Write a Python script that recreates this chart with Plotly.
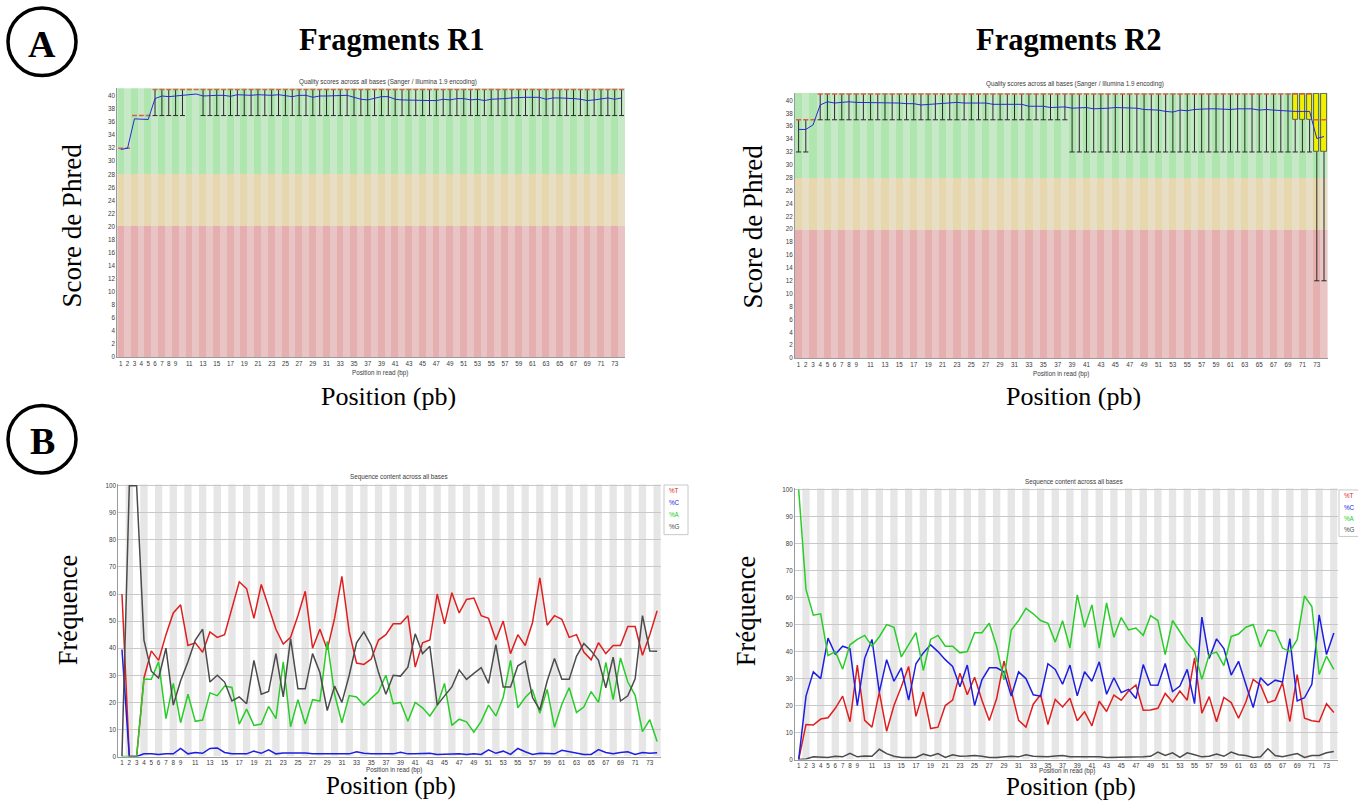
import plotly.graph_objects as go

W, H = 1358, 803

# ---------------- data ----------------
positions = list(range(1, 75))
x_tick_vals = [1, 2, 3, 4, 5, 6, 7, 8, 9, 11, 13, 15, 17, 19, 21, 23, 25, 27, 29, 31, 33, 35,
               37, 39, 41, 43, 45, 47, 49, 51, 53, 55, 57, 59, 61, 63, 65, 67, 69, 71, 73]
q_tick_vals = [0, 2, 4, 6, 8, 10, 12, 14, 16, 18, 20, 22, 24, 26, 28, 30, 32, 34, 36, 38, 40]
c_tick_vals = [0, 10, 20, 30, 40, 50, 60, 70, 80, 90, 100]

# Quality scores, Fragments R1
r1_mean = [31.8, 32.0, 36.5, 36.4, 36.4, 39.6, 40.0, 39.9, 40.0, 40.2,
           40.3, 40.3, 40.0, 40.1, 40.1, 40.1, 39.95, 40.2, 40.1, 40.1,
           40.2, 40.1, 40.1, 40.2, 40.0, 39.9, 40.1, 40.1, 39.8, 40.0,
           40.0, 40.0, 40.0, 40.1, 39.8, 39.5, 39.4, 39.6, 39.9, 39.9,
           39.5, 39.4, 39.35, 39.3, 39.3, 39.3, 39.3, 39.5, 39.4, 39.6,
           39.6, 39.4, 39.5, 39.3, 39.5, 39.5, 39.6, 39.7, 39.8, 39.8,
           39.8, 39.8, 39.5, 39.7, 39.7, 39.7, 39.6, 39.5, 39.3, 39.4,
           39.6, 39.7, 39.5, 39.7]
r1_median = [32, 32, 37, 37, 37, 41, 41, 41, 41, 41, 41, 41, 41, 41, 41, 41, 41, 41, 41, 41,
             41, 41, 41, 41, 41, 41, 41, 41, 41, 41, 41, 41, 41, 41, 41, 41, 41, 41, 41, 41,
             41, 41, 41, 41, 41, 41, 41, 41, 41, 41, 41, 41, 41, 41, 41, 41, 41, 41, 41, 41,
             41, 41, 41, 41, 41, 41, 41, 41, 41, 41, 41, 41, 41, 41]
r1_q1 = r1_median
r1_q3 = r1_median
r1_low = [32, 32, 37, 37, 37, 37, 37, 37, 37, 37, 41, 41, 37, 37, 37, 37, 37, 37, 37, 37,
          37, 37, 37, 37, 37, 37, 37, 37, 37, 37, 37, 37, 37, 37, 37, 37, 37, 37, 37, 37,
          37, 37, 37, 37, 37, 37, 37, 37, 37, 37, 37, 37, 37, 37, 37, 37, 37, 37, 37, 37,
          37, 37, 37, 37, 37, 37, 37, 37, 37, 37, 37, 37, 37, 37]
r1_high = r1_median

# Quality scores, Fragments R2
r2_mean = [35.5, 35.5, 36.2, 39.3, 39.8, 39.6, 39.7, 39.8, 39.7, 39.7,
           39.7, 39.7, 39.6, 39.6, 39.6, 39.5, 39.5, 39.3, 39.4, 39.4,
           39.5, 39.6, 39.7, 39.6, 39.6, 39.6, 39.6, 39.4, 39.4, 39.4,
           39.4, 39.4, 39.1, 39.1, 39.1, 38.9, 38.9, 39.0, 38.8, 38.8,
           38.9, 38.7, 38.7, 38.8, 38.9, 38.9, 38.8, 38.8, 38.6, 38.55,
           38.5, 38.3, 38.2, 38.5, 38.4, 38.6, 38.7, 38.7, 38.7, 38.6,
           38.6, 38.7, 38.7, 38.7, 38.5, 38.6, 38.5, 38.4, 38.4, 38.3,
           38.3, 38.3, 34.1, 34.4]
r2_median = [37, 37, 37, 41, 41, 41, 41, 41, 41, 41, 41, 41, 41, 41, 41, 41, 41, 41, 41, 41,
             41, 41, 41, 41, 41, 41, 41, 41, 41, 41, 41, 41, 41, 41, 41, 41, 41, 41, 41, 41,
             41, 41, 41, 41, 41, 41, 41, 41, 41, 41, 41, 41, 41, 41, 41, 41, 41, 41, 41, 41,
             41, 41, 41, 41, 41, 41, 41, 41, 41, 41, 41, 41, 37, 37]
r2_q1 = [37, 37, 37, 41, 41, 41, 41, 41, 41, 41, 41, 41, 41, 41, 41, 41, 41, 41, 41, 41,
         41, 41, 41, 41, 41, 41, 41, 41, 41, 41, 41, 41, 41, 41, 41, 41, 41, 41, 41, 41,
         41, 41, 41, 41, 41, 41, 41, 41, 41, 41, 41, 41, 41, 41, 41, 41, 41, 41, 41, 41,
         41, 41, 41, 41, 41, 41, 41, 41, 41, 37, 37, 37, 32, 32]
r2_q3 = [37, 37, 37, 41, 41, 41, 41, 41, 41, 41, 41, 41, 41, 41, 41, 41, 41, 41, 41, 41,
         41, 41, 41, 41, 41, 41, 41, 41, 41, 41, 41, 41, 41, 41, 41, 41, 41, 41, 41, 41,
         41, 41, 41, 41, 41, 41, 41, 41, 41, 41, 41, 41, 41, 41, 41, 41, 41, 41, 41, 41,
         41, 41, 41, 41, 41, 41, 41, 41, 41, 41, 41, 41, 41, 41]
r2_low = [32, 32, 37, 37, 37, 37, 37, 37, 37, 37, 37, 37, 37, 37, 37, 37, 37, 37, 37, 37,
          37, 37, 37, 37, 37, 37, 37, 37, 37, 37, 37, 37, 37, 37, 37, 37, 37, 37, 32, 32,
          32, 32, 32, 32, 32, 32, 32, 32, 32, 32, 32, 32, 32, 32, 32, 32, 32, 32, 32, 32,
          32, 32, 32, 32, 32, 32, 32, 32, 32, 32, 32, 32, 12, 12]
r2_high = r2_q3

# Sequence content, Fragments R1 (%)
r1_T = [60, 0, 0, 29, 39, 35.5, 45, 53, 56, 41,
        42, 38.5, 46, 44, 45, 55, 64.5, 62, 51, 63.5,
        55, 47, 41.5, 44, 52, 61, 40, 47, 39.5, 51,
        66.5, 46, 34.5, 34, 36, 43, 45, 49, 49, 52,
        33, 42, 43, 60, 49, 60.5, 53, 58, 58.5, 52,
        51, 43, 50, 38, 45, 41, 49.5, 66, 48.5, 52,
        50.7, 44, 45, 38.6, 35.7, 42, 38, 41, 41, 48,
        48, 37.4, 45, 53.8]
r1_C = [39.5, 0, 0, 1, 1, 0.8, 1, 1, 3, 1,
        1.5, 1.2, 3, 3.2, 1.5, 1, 1, 1, 2, 1.2,
        2.5, 1, 1.3, 1.2, 1.3, 1.3, 1, 1, 1, 1.2,
        1.2, 1, 1.8, 1.2, 1, 1, 1.2, 1, 1.6, 1,
        1, 1.2, 1.2, 0.8, 0.9, 0.8, 1, 0.8, 1, 0.8,
        2.5, 1.2, 2, 0.8, 3, 1.8, 0.8, 1.2, 1.2, 1,
        2.3, 1.8, 1.2, 0.8, 0.8, 2.6, 1.5, 1, 1.5, 1.8,
        0.8, 1.5, 1.2, 1.4]
r1_A = [0, 0, 0, 28.5, 28.5, 35, 14, 27, 12.5, 23,
        13, 13.5, 23.5, 22.5, 26, 25.5, 12, 17.5, 11.5, 12,
        18.5, 14, 35, 11, 21, 12, 21, 20.5, 42.5, 23,
        12.5, 22.5, 22, 19, 21.5, 24, 30, 19.5, 20, 13,
        20, 18, 15, 19, 27, 11.5, 13.8, 12.8, 9, 13,
        19, 15, 21.8, 35.5, 18, 21.8, 24.5, 16, 24.8, 10.8,
        19.3, 25.4, 16.3, 18.3, 24, 20, 34.8, 21, 36.4, 27.5,
        22.6, 9.2, 13.6, 5.6]
r1_G = [0, 100, 100, 43, 31.5, 29, 40, 19, 28, 35,
        43, 47, 27.5, 30, 27.5, 20.5, 22, 19.5, 35.5, 23,
        24, 38, 22, 43.5, 25, 25, 38, 31, 17, 26,
        20, 30, 42, 46, 41, 31, 23, 30, 29.7, 33,
        45.3, 38, 40.7, 19, 22.4, 25.7, 32, 28.5, 30.7, 32.8,
        27, 41.3, 25.7, 25.7, 33.5, 35.2, 21.8, 17.2, 27.9, 36.2,
        28.5, 28.5, 37, 41.7, 39, 35.5, 25.4, 36.7, 20.5, 22.4,
        28.7, 52, 39, 38.9]

# Sequence content, Fragments R2 (%)
r2_T = [0, 13, 12.8, 15, 15.5, 19, 23.5, 14, 35, 14.5,
        12, 25, 10.5, 20, 27, 34.5, 16, 25, 11.5, 12,
        20, 22, 32, 24, 30.5, 22, 14.5, 22.5, 36.5, 26,
        14.5, 12, 20.5, 24, 13, 22.3, 19.5, 22.7, 14.4, 17.7,
        12.5, 21.6, 17.8, 23.9, 22, 25.4, 27.6, 18.3, 18.4, 19,
        24.5, 21.3, 25.4, 22, 37.7, 17.2, 23.3, 14, 23, 21.1,
        15.3, 21.3, 29.7, 27.6, 21.1, 22, 28.5, 14.1, 31.5, 15.3,
        14.4, 14, 20.7, 17.4]
r2_C = [0, 23.5, 32.5, 30, 45, 39, 42, 41, 20, 37.5,
        44.5, 25, 37, 29, 34, 22, 35.5, 39.5, 42.5, 40,
        37, 34.5, 27, 35, 20, 29.5, 34, 34, 32.5, 23.5,
        32.5, 30, 24, 23.5, 35.5, 33.4, 27.9, 35, 23.6, 32.5,
        29, 36.2, 24.2, 30.3, 24.8, 26, 22.6, 35.2, 27.6, 27.5,
        35.6, 25.2, 27.2, 33.4, 20.7, 52.8, 37.4, 44.7, 41.1, 31.3,
        36.4, 27.9, 19.3, 30.3, 27.5, 29.4, 28.7, 44.8, 21.7, 22.9,
        27.9, 53.6, 38.9, 46.9]
r2_A = [100, 63, 53.5, 54, 38.5, 40, 33.5, 42.5, 44.5, 46,
        42, 45.5, 50, 49, 38, 42.5, 47, 33, 44.5, 46,
        42, 42, 39.5, 40, 47, 47, 50.5, 42, 29.5, 48,
        51.5, 56, 54, 51.5, 50.5, 43.5, 51.4, 41.3, 61, 49,
        57.3, 41.3, 58, 45.3, 52.6, 48, 48.7, 46, 53.3, 51.5,
        38.9, 51.5, 47.5, 43.2, 40, 29.7, 38.9, 39.8, 34.8, 45.6,
        46.5, 49, 50, 41.7, 48, 47.5, 41.3, 40, 44.4, 60.6,
        56.7, 31.5, 38.3, 33.4]
r2_G = [0, 0.2, 1, 1, 0.8, 1.2, 1, 2.3, 1, 1.3,
        1.2, 3.8, 2.2, 1.2, 0.8, 0.8, 0.8, 2, 1.3, 2.2,
        0.8, 1.8, 1.2, 1.3, 1.5, 1.2, 0.8, 0.8, 1, 1.2,
        1, 1.8, 1.2, 1, 1, 1.3, 1.5, 1, 1, 1,
        1.2, 1, 0.8, 0.8, 1, 1, 1, 1, 1.2, 2.8,
        1.5, 2.5, 0.8, 2.5, 1.8, 1, 1.2, 2, 1.2, 2.8,
        1.8, 1.5, 0.8, 1, 4, 1.5, 1, 1.5, 2.2, 0.8,
        1.5, 1.5, 2.5, 3]

base_labels = ["%T", "%C", "%A", "%G"]
base_colors = ["rgb(225,30,30)", "rgb(30,30,225)", "rgb(40,205,40)", "rgb(75,75,75)"]

# ---------------- helpers ----------------
def fx(px):
    return px / W


def fy(py):
    return 1 - py / H


fig = go.Figure()

SMALL = dict(family="Liberation Sans", size=6.3, color="#3a3a3a")
SERIF = "Liberation Serif"

panels_q = [
    dict(xa="x", ya="y", mean=r1_mean, med=r1_median, q1=r1_q1, q3=r1_q3, lo=r1_low, hi=r1_high),
    dict(xa="x2", ya="y2", mean=r2_mean, med=r2_median, q1=r2_q1, q3=r2_q3, lo=r2_low, hi=r2_high),
]
Q_TOP = 41.2
zones = [(0, 20, "rgb(230,175,175)", "rgb(232,196,196)"),
         (20, 28, "rgb(230,215,175)", "rgb(232,222,198)"),
         (28, Q_TOP, "rgb(175,230,175)", "rgb(200,233,200)")]

for pan in panels_q:
    xa, ya = pan["xa"], pan["ya"]
    for lo, hi, dark, light in zones:
        fig.add_trace(go.Bar(
            x=positions, y=[hi - lo] * len(positions), base=lo, width=1,
            marker=dict(color=[dark if p % 2 == 1 else light for p in positions], line=dict(width=0)),
            xaxis=xa, yaxis=ya, hoverinfo="skip", showlegend=False))
    # boxes (inter-quartile range)
    bx, by, bb = [], [], []
    for p, a, b in zip(positions, pan["q1"], pan["q3"]):
        if b > a:
            bx.append(p); by.append(b - a); bb.append(a)
    if bx:
        fig.add_trace(go.Bar(
            x=bx, y=by, base=bb, width=0.72,
            marker=dict(color="rgb(240,240,0)", line=dict(color="rgb(60,60,60)", width=0.8)),
            xaxis=xa, yaxis=ya, hoverinfo="skip", showlegend=False))
    # whiskers
    wx, wy = [], []
    for p, lo, a, b, hi in zip(positions, pan["lo"], pan["q1"], pan["q3"], pan["hi"]):
        if a > lo:
            wx += [p, p, None]; wy += [lo, a, None]
            wx += [p - 0.36, p + 0.36, None]; wy += [lo, lo, None]
        if hi > b:
            wx += [p, p, None]; wy += [b, hi, None]
            wx += [p - 0.36, p + 0.36, None]; wy += [hi, hi, None]
    fig.add_trace(go.Scatter(x=wx, y=wy, mode="lines", line=dict(color="rgb(40,40,40)", width=1),
                             xaxis=xa, yaxis=ya, hoverinfo="skip", showlegend=False))
    # medians
    mx, my = [], []
    for p, m in zip(positions, pan["med"]):
        mx += [p - 0.36, p + 0.36, None]; my += [m, m, None]
    fig.add_trace(go.Scatter(x=mx, y=my, mode="lines", line=dict(color="rgb(215,95,75)", width=1.6),
                             xaxis=xa, yaxis=ya, hoverinfo="skip", showlegend=False))
    # mean
    fig.add_trace(go.Scatter(x=positions, y=pan["mean"], mode="lines",
                             line=dict(color="rgb(40,40,215)", width=1),
                             xaxis=xa, yaxis=ya, hoverinfo="skip", showlegend=False))

panels_c = [
    dict(xa="x3", ya="y3", series=[r1_T, r1_C, r1_A, r1_G]),
    dict(xa="x4", ya="y4", series=[r2_T, r2_C, r2_A, r2_G]),
]
shapes = []
for pan in panels_c:
    xa, ya = pan["xa"], pan["ya"]
    for p in positions:
        if p % 2 == 0:
            shapes.append(dict(type="rect", xref=xa, yref=ya, x0=p - 0.5, x1=p + 0.5, y0=0, y1=100.5,
                               fillcolor="rgb(230,230,230)", line=dict(width=0), layer="below"))
    for vals, name, col in zip(pan["series"], base_labels, base_colors):
        fig.add_trace(go.Scatter(x=positions, y=vals, mode="lines", name=name,
                                 line=dict(color=col, width=1.5),
                                 xaxis=xa, yaxis=ya, hoverinfo="skip", showlegend=False))

# ---------------- axes ----------------
def xaxis(dom):
    return dict(domain=[fx(dom[0]), fx(dom[1])], range=[0.5, 74.5], showgrid=False, zeroline=False,
                showline=True, linecolor="#9a9a9a", linewidth=1, ticks="", tickvals=x_tick_vals,
                ticktext=[str(v) for v in x_tick_vals], tickfont=SMALL, fixedrange=True)


def yaxis(dom, rng, tv, grid, anchor):
    return dict(domain=[fy(dom[1]), fy(dom[0])], range=rng, zeroline=False, showline=True,
                linecolor="#9a9a9a", linewidth=1, ticks="", tickvals=tv, tickfont=SMALL,
                showgrid=grid, gridcolor="rgb(200,200,200)", gridwidth=1, anchor=anchor, fixedrange=True)


layout = dict(
    width=W, height=H, autosize=False, margin=dict(l=0, r=0, t=0, b=0),
    paper_bgcolor="white", plot_bgcolor="white", barmode="overlay", bargap=0,
    xaxis=dict(xaxis((117.3, 625.0)), anchor="y"),
    yaxis=yaxis((86.7, 357.3), [0, Q_TOP], q_tick_vals, False, "x"),
    xaxis2=dict(xaxis((795.0, 1327.6)), anchor="y2"),
    yaxis2=yaxis((91.3, 358.3), [0, Q_TOP], q_tick_vals, False, "x2"),
    xaxis3=dict(xaxis((118.3, 660.8)), anchor="y3"),
    yaxis3=yaxis((485.3, 759.3), [0, 100.5], c_tick_vals, True, "x3"),
    xaxis4=dict(xaxis((795.0, 1337.5)), anchor="y4"),
    yaxis4=yaxis((489.3, 762.3), [0, 100.5], c_tick_vals, True, "x4"),
)
fig.update_layout(**layout)

# ---------------- text ----------------
ann = []


def text(x, y, s, size, family=SERIF, color="black", weight="normal", angle=0, xanchor="center"):
    ann.append(dict(x=fx(x), y=fy(y), xref="paper", yref="paper", text=s, showarrow=False,
                    xanchor=xanchor, yanchor="middle", textangle=angle,
                    font=dict(family=family, size=size, color=color, weight=weight)))


# panel letters
for cx, cy, letter in [(42, 40, "A"), (42, 440, "B")]:
    shapes.append(dict(type="circle", xref="paper", yref="paper",
                       x0=fx(cx - 34), x1=fx(cx + 34), y0=fy(cy + 34), y1=fy(cy - 34),
                       line=dict(color="black", width=3.5)))
    text(cx, cy + 2, letter, 38, weight="bold")

text(392, 38, "Fragments R1", 30.5, weight="bold")
text(1069, 38, "Fragments R2", 30.5, weight="bold")

text(72, 225, "Score de Phred", 27, angle=-90)
text(753, 226, "Score de Phred", 27, angle=-90)
text(68, 612, "Fréquence", 26.5, angle=-90)
text(746, 613, "Fréquence", 26.5, angle=-90)

text(388, 397, "Position (pb)", 26)
text(1073, 397, "Position (pb)", 26)
text(391, 789, "Position (pb)", 25)
text(1071, 790, "Position (pb)", 25)

# FastQC inner titles
GREY = "#3a3a3a"
text(388, 81, "Quality scores across all bases (Sanger / Illumina 1.9 encoding)", 6.3,
     family="Liberation Sans", color=GREY)
text(1075, 83, "Quality scores across all bases (Sanger / Illumina 1.9 encoding)", 6.3,
     family="Liberation Sans", color=GREY)
text(380, 373, "Position in read (bp)", 6.3, family="Liberation Sans", color=GREY)
text(1061, 374, "Position in read (bp)", 6.3, family="Liberation Sans", color=GREY)
text(399, 478, "Sequence content across all bases", 6.3, family="Liberation Sans", color=GREY)
text(1074, 483, "Sequence content across all bases", 6.3, family="Liberation Sans", color=GREY)
text(394, 773, "Position in read (bp)", 6.3, family="Liberation Sans", color=GREY)
text(1067, 774, "Position in read (bp)", 6.3, family="Liberation Sans", color=GREY)

# legends of the sequence-content plots
for lx, ly, step in [(664, 486, 12), (1339, 491, 11.2)]:
    shapes.append(dict(type="rect", xref="paper", yref="paper", x0=fx(lx), x1=fx(lx + 24),
                       y0=fy(ly + 4 * step + 2), y1=fy(ly), fillcolor="white",
                       line=dict(color="rgb(200,200,200)", width=1)))
    for i, (lab, col) in enumerate(zip(base_labels, base_colors)):
        text(lx + 2.5, ly + 6 + i * step, lab, 6.3, family="Liberation Sans", color=col, xanchor="left")

fig.update_layout(shapes=shapes, annotations=ann)

fig.write_html("out.html", config={"displayModeBar": False},
               post_script="document.body.style.margin='0';")
